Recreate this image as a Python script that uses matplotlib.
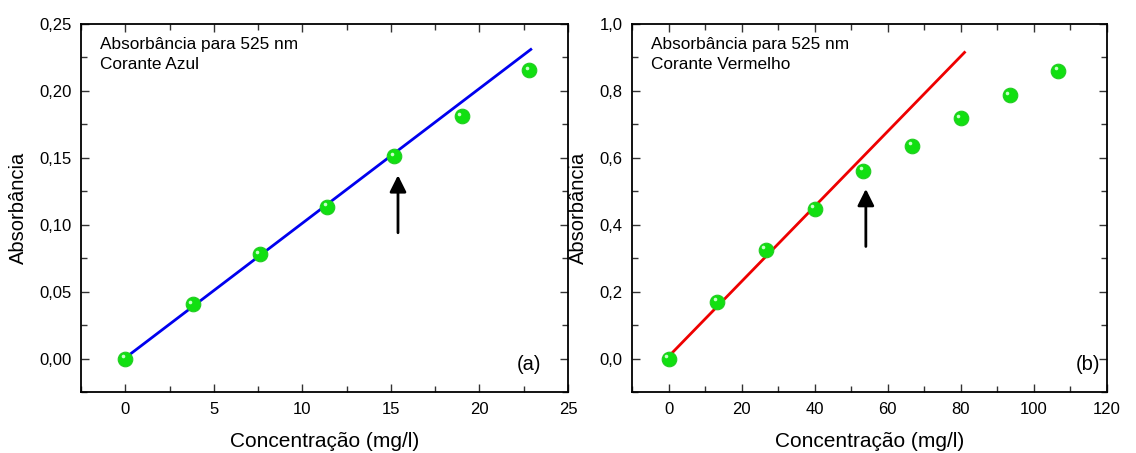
import matplotlib
matplotlib.use("Agg")
import matplotlib.pyplot as plt
from matplotlib.ticker import MultipleLocator, FuncFormatter
from matplotlib.transforms import ScaledTranslation

plt.rcParams['font.family'] = ['Liberation Sans', 'DejaVu Sans']

# Corante Azul (a)
conc_azul = [0.0, 3.8, 7.6, 11.4, 15.2, 19.0, 22.8]
abs_azul = [0.000, 0.0405, 0.078, 0.1135, 0.151, 0.181, 0.2155]
fit_azul_x = [0.0, 22.9]
fit_azul_y = [0.0005, 0.231]
seta_azul_x = 15.4
seta_azul_y = [0.094, 0.137]

# Corante Vermelho (b)
conc_verm = [0.0, 13.33, 26.67, 40.0, 53.33, 66.67, 80.0, 93.33, 106.67]
abs_verm = [0.000, 0.170, 0.325, 0.448, 0.561, 0.636, 0.718, 0.787, 0.860]
fit_verm_x = [0.0, 81.0]
fit_verm_y = [0.006, 0.915]
seta_verm_x = 54.0
seta_verm_y = [0.335, 0.507]

fig = plt.figure(figsize=(11.36, 4.53), dpi=100)
ax1 = fig.add_axes([81/1136, 61/453, 487/1136, 368/453])
ax2 = fig.add_axes([632/1136, 61/453, 475/1136, 368/453])


def comma(fmt):
    return FuncFormatter(lambda v, p: (fmt % v).replace('.', ','))


def spheres(ax, x, y):
    ax.plot(x, y, 'o', ms=10.5, mfc='#11e011', mec='#22cc22', mew=0.8, zorder=3)
    hl = ax.transData + ScaledTranslation(-1.8/72, 1.8/72, fig.dpi_scale_trans)
    ax.plot(x, y, 'o', ms=2.6, mfc='#c8ffc8', mec='none', transform=hl, zorder=4)


def style(ax, xlim, ylim, xmaj, ymaj, yfmt, titulo):
    ax.set_xlim(*xlim)
    ax.set_ylim(*ylim)
    ax.xaxis.set_major_locator(MultipleLocator(xmaj))
    ax.xaxis.set_minor_locator(MultipleLocator(xmaj / 2))
    ax.yaxis.set_major_locator(MultipleLocator(ymaj))
    ax.yaxis.set_minor_locator(MultipleLocator(ymaj / 2))
    ax.yaxis.set_major_formatter(comma(yfmt))
    ax.tick_params(which='both', direction='in', top=True, right=True,
                   width=1.0, color='#333333', labelsize=12, pad=7)
    ax.tick_params(which='major', length=6)
    ax.tick_params(which='minor', length=4)
    for s in ax.spines.values():
        s.set_linewidth(1.3)
    ax.set_xlabel('Concentração (mg/l)', fontsize=15, labelpad=11)
    ax.set_ylabel('Absorbância', fontsize=14.5, labelpad=8)
    ax.text(0.039, 0.965, titulo, transform=ax.transAxes, fontsize=12.4,
            va='top', ha='left', linespacing=1.4)


style(ax1, (-2.5, 25), (-0.025, 0.25), 5, 0.05, '%.2f',
      'Absorbância para 525 nm\nCorante Azul')
style(ax2, (-10, 120), (-0.1, 1.0), 20, 0.2, '%.1f',
      'Absorbância para 525 nm\nCorante Vermelho')
ax1.text(0.92, 0.075, '(a)', transform=ax1.transAxes, fontsize=14.5, ha='center', va='center')
ax2.text(0.96, 0.075, '(b)', transform=ax2.transAxes, fontsize=14.5, ha='center', va='center')

ax1.plot(fit_azul_x, fit_azul_y, color='#0000ee', lw=2.0, zorder=2)
spheres(ax1, conc_azul, abs_azul)
ax2.plot(fit_verm_x, fit_verm_y, color='#ee0000', lw=2.0, zorder=2)
spheres(ax2, conc_verm, abs_verm)

for ax, sx, sy in [(ax1, seta_azul_x, seta_azul_y), (ax2, seta_verm_x, seta_verm_y)]:
    ax.annotate('', xy=(sx, sy[1]), xytext=(sx, sy[0]),
                arrowprops=dict(arrowstyle='-|>,head_length=1.0,head_width=0.5',
                                color='black', lw=2.0, shrinkA=0, shrinkB=0))

fig.savefig('out.png', dpi=100)
